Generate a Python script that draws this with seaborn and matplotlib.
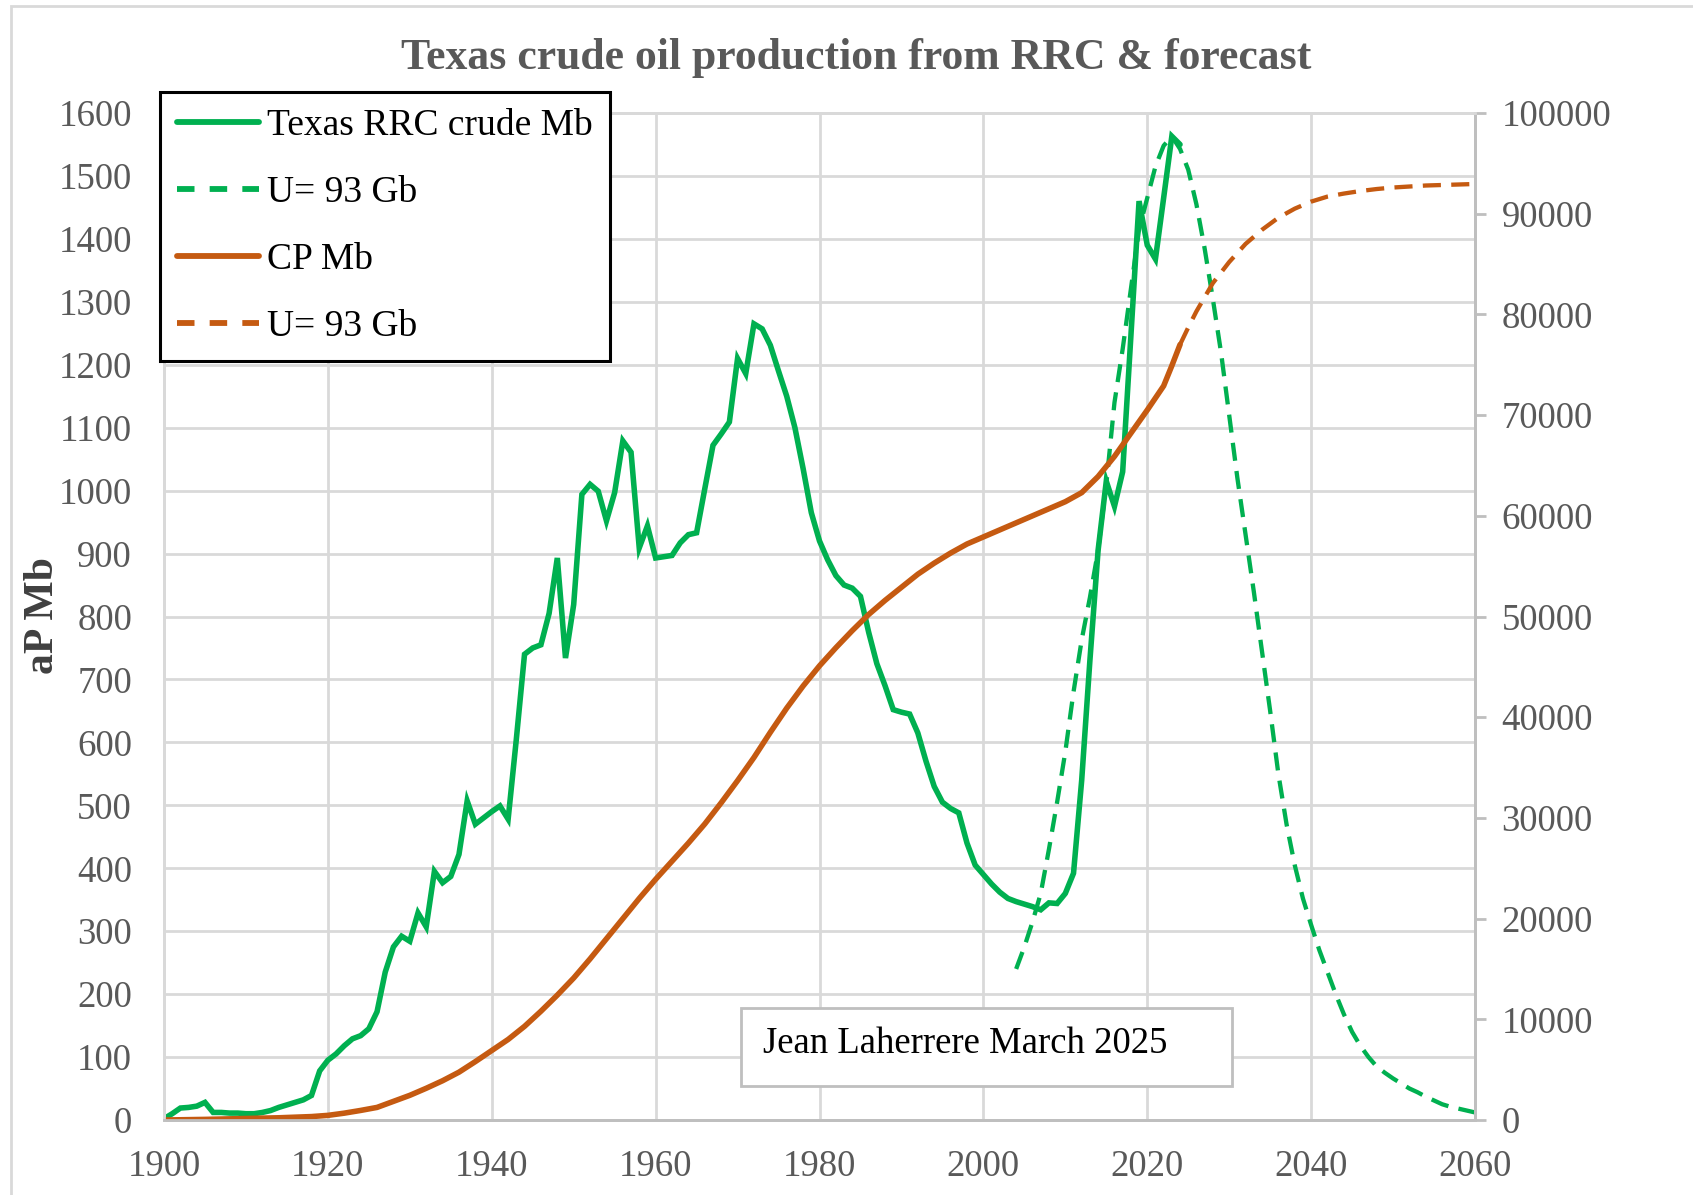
import matplotlib
matplotlib.use("Agg")
import matplotlib.pyplot as plt
import seaborn as sns
from matplotlib.patches import Rectangle

# ---------------- data ----------------
prod_years = list(range(1900, 2025))
prod_mb = [
    2, 10, 19, 20, 22, 28, 12, 12, 11, 11,            # 1900-1909
    10, 10, 12, 15, 20, 24, 28, 32, 39, 78,           # 1910-1919
    95, 105, 118, 129, 134, 145, 172, 235, 275, 292,  # 1920-1929
    284, 329, 307, 395, 377, 387, 422, 507, 470, 480, # 1930-1939
    490, 499, 478, 605, 740, 750, 755, 805, 893, 734, # 1940-1949
    819, 994, 1010, 999, 952, 997, 1079, 1061, 909, 944,   # 1950-1959
    893, 895, 897, 917, 930, 933, 1003, 1072, 1090, 1109,  # 1960-1969
    1210, 1186, 1265, 1257, 1231, 1190, 1150, 1100, 1035, 965,  # 1970-1979
    920, 890, 865, 850, 845, 832, 775, 725, 690, 652,  # 1980-1989
    648, 645, 615, 570, 530, 505, 495, 488, 440, 405,  # 1990-1999
    390, 375, 362, 352, 347, 343, 339, 334, 345, 344,  # 2000-2009
    360, 392, 540, 730, 905, 1015, 975, 1030, 1245, 1460,  # 2010-2019
    1390, 1368, 1465, 1563, 1550,                      # 2020-2024
]

cp_years = [1900, 1905, 1910, 1914, 1918, 1920, 1922, 1924, 1926, 1928,
            1930, 1932, 1934, 1936, 1938, 1940, 1942, 1944, 1946, 1948,
            1950, 1952, 1954, 1956, 1958, 1960, 1962, 1964, 1966, 1968,
            1970, 1972, 1974, 1976, 1978, 1980, 1982, 1984, 1986, 1988,
            1990, 1992, 1994, 1996, 1998, 2000, 2002, 2004, 2006, 2008,
            2010, 2012, 2014, 2016, 2018, 2020, 2022, 2023, 2024]
cp_mb = [0, 60, 150, 220, 340, 460, 680, 950, 1250, 1850,
         2450, 3150, 3900, 4750, 5800, 6900, 8000, 9300, 10800, 12400,
         14100, 16000, 18000, 20000, 22000, 23900, 25700, 27500, 29400, 31500,
         33700, 36000, 38500, 40900, 43100, 45100, 46900, 48600, 50200, 51600,
         52900, 54200, 55300, 56300, 57200, 57900, 58600, 59300, 60000, 60700,
         61400, 62300, 63900, 65900, 68200, 70500, 72900, 74900, 77000]

fc_prod_years = list(range(2004, 2061))
fc_prod_mb = [
    240, 275, 315, 360, 430, 505,                       # 2004-2009
    585, 680, 763, 830, 905, 1010, 1140, 1225, 1320, 1415,  # 2010-2019
    1465, 1515, 1548, 1563, 1543, 1510, 1455, 1385, 1305, 1220,  # 2020-2029
    1120, 1020, 930, 840, 745, 650, 550, 470, 405, 352,  # 2030-2039
    310, 270, 235, 200, 168, 140, 118, 100, 85, 75,      # 2040-2049
    66, 58, 50, 44, 37, 31, 25, 21, 18, 15,              # 2050-2059
    12,                                                  # 2060
]

fc_cp_years = [2024, 2025, 2026, 2028, 2030, 2032, 2034, 2036, 2038, 2040,
               2042, 2044, 2046, 2048, 2050, 2052, 2054, 2056, 2058, 2060]
fc_cp_mb = [77000, 78700, 80300, 83100, 85200, 87000, 88400, 89600, 90500, 91200,
            91700, 92000, 92250, 92450, 92600, 92700, 92800, 92850, 92900, 92950]

title = "Texas crude oil production from RRC & forecast"
series_labels = ["Texas RRC crude Mb", "U= 93 Gb", "CP Mb", "U= 93 Gb"]
y_label = "aP Mb"
note = "Jean Laherrere March 2025"
left_ticks = list(range(0, 1601, 100))
right_ticks = list(range(0, 100001, 10000))
x_ticks = list(range(1900, 2061, 20))

# ---------------- style ----------------
sns.set_theme(style="white")
plt.rcParams['font.family'] = ['Liberation Serif', 'DejaVu Serif']

GREEN = "#00B050"
ORANGE = "#C55A11"
GRID = "#D9D9D9"
AXIS = "#BFBFBF"
TXT = "#595959"

W, H = 1693, 1195
fig = plt.figure(figsize=(W / 100, H / 100), dpi=100)
fig.patch.set_facecolor("white")

x0, x1, y0, y1 = 164, 1475, 113, 1120
ax = fig.add_axes([x0 / W, 1 - y1 / H, (x1 - x0) / W, (y1 - y0) / H])
ax2 = ax.twinx()

# lines
sns.lineplot(x=prod_years, y=prod_mb, ax=ax, color=GREEN, linewidth=4.0,
             label=series_labels[0], legend=False)
sns.lineplot(x=fc_prod_years, y=fc_prod_mb, ax=ax, color=GREEN, linewidth=3.1,
             linestyle="--", label=series_labels[1], legend=False)
sns.lineplot(x=cp_years, y=cp_mb, ax=ax2, color=ORANGE, linewidth=4.0,
             label=series_labels[2], legend=False)
sns.lineplot(x=fc_cp_years, y=fc_cp_mb, ax=ax2, color=ORANGE, linewidth=3.1,
             linestyle="--", label=series_labels[3], legend=False)

h_prod, h_fc = ax.get_lines()[0], ax.get_lines()[1]
h_cp, h_fccp = ax2.get_lines()[0], ax2.get_lines()[1]
for ln in (h_fc, h_fccp):
    ln.set_dashes([4.2, 2.4])
for ln in (h_prod, h_fc, h_cp, h_fccp):
    ln.set_solid_capstyle("round")
    ln.set_solid_joinstyle("miter")
    ln.set_dash_capstyle("butt")

# axes limits / ticks
ax.set_xlim(1900, 2060)
ax.set_ylim(0, 1600)
ax2.set_ylim(0, 100000)
ax.set_xticks(x_ticks)
ax.set_yticks(left_ticks)
ax2.set_yticks(right_ticks)
ax.set_xticklabels([str(t) for t in x_ticks])
ax.set_yticklabels([str(t) for t in left_ticks])
ax2.set_yticklabels([str(t) for t in right_ticks])

ax.grid(True, color=GRID, linewidth=2.0)
ax.set_axisbelow(True)
ax2.grid(False)

ax.tick_params(axis="y", length=0, pad=23, labelsize=26.5, labelcolor=TXT)
ax.tick_params(axis="x", length=0, pad=21, labelsize=26.5, labelcolor=TXT)
ax2.tick_params(axis="y", length=8, width=2, color=AXIS, pad=11,
                labelsize=26.5, labelcolor=TXT)

for a in (ax, ax2):
    for s in ("top", "left"):
        a.spines[s].set_color(GRID)
        a.spines[s].set_linewidth(2)
    for s in ("bottom", "right"):
        a.spines[s].set_color(AXIS)
        a.spines[s].set_linewidth(2)
ax.set_xlabel("")

# y label
ax.set_ylabel(y_label, fontsize=30, fontweight="bold", color="#404040")
ax.yaxis.set_label_coords((43 - x0) / (x1 - x0), (y1 - 615) / (y1 - y0))
ax.yaxis.label.set_va("center")
ax2.set_ylabel("")

# title
ax.set_title(title, fontsize=31.5, fontweight="bold", color=TXT,
             x=(856 - x0) / (x1 - x0), y=(y1 - 58) / (y1 - y0), va="center", pad=0)

# legend
leg = fig.legend([h_prod, h_fc, h_cp, h_fccp], series_labels,
                 loc="upper left", bbox_to_anchor=(160 / W, 1 - 92 / H),
                 bbox_transform=fig.transFigure, frameon=True, fancybox=False,
                 framealpha=1, edgecolor="black", fontsize=27,
                 handlelength=2.2, handletextpad=0.2, labelspacing=0.86,
                 borderpad=0.45, borderaxespad=0)
leg.get_frame().set_linewidth(2.2)
for t in leg.get_texts():
    t.set_color("black")
leg_lines = leg.get_lines()
for i, lh in enumerate(leg_lines):
    lh.set_linewidth(4.2)
    if i in (1, 3):
        lh.set_dashes([3.0, 2.6])
        lh.set_dash_capstyle("butt")

# note box
fig.patches.append(Rectangle((741 / W, 1 - 1086 / H), 491 / W, 78 / H,
                             transform=fig.transFigure, facecolor="white",
                             edgecolor=AXIS, linewidth=2, zorder=5))
fig.text(763 / W, 1 - 1044 / H, note, fontsize=26.5, color="black",
         ha="left", va="center", zorder=6)

# outer chart border (top and left visible)
fig.patches.append(Rectangle((11 / W, -0.05), 1.1, 1 - 6 / H + 0.05,
                             transform=fig.transFigure, facecolor="none",
                             edgecolor=GRID, linewidth=2, zorder=0))

fig.savefig("out.png", dpi=100)
